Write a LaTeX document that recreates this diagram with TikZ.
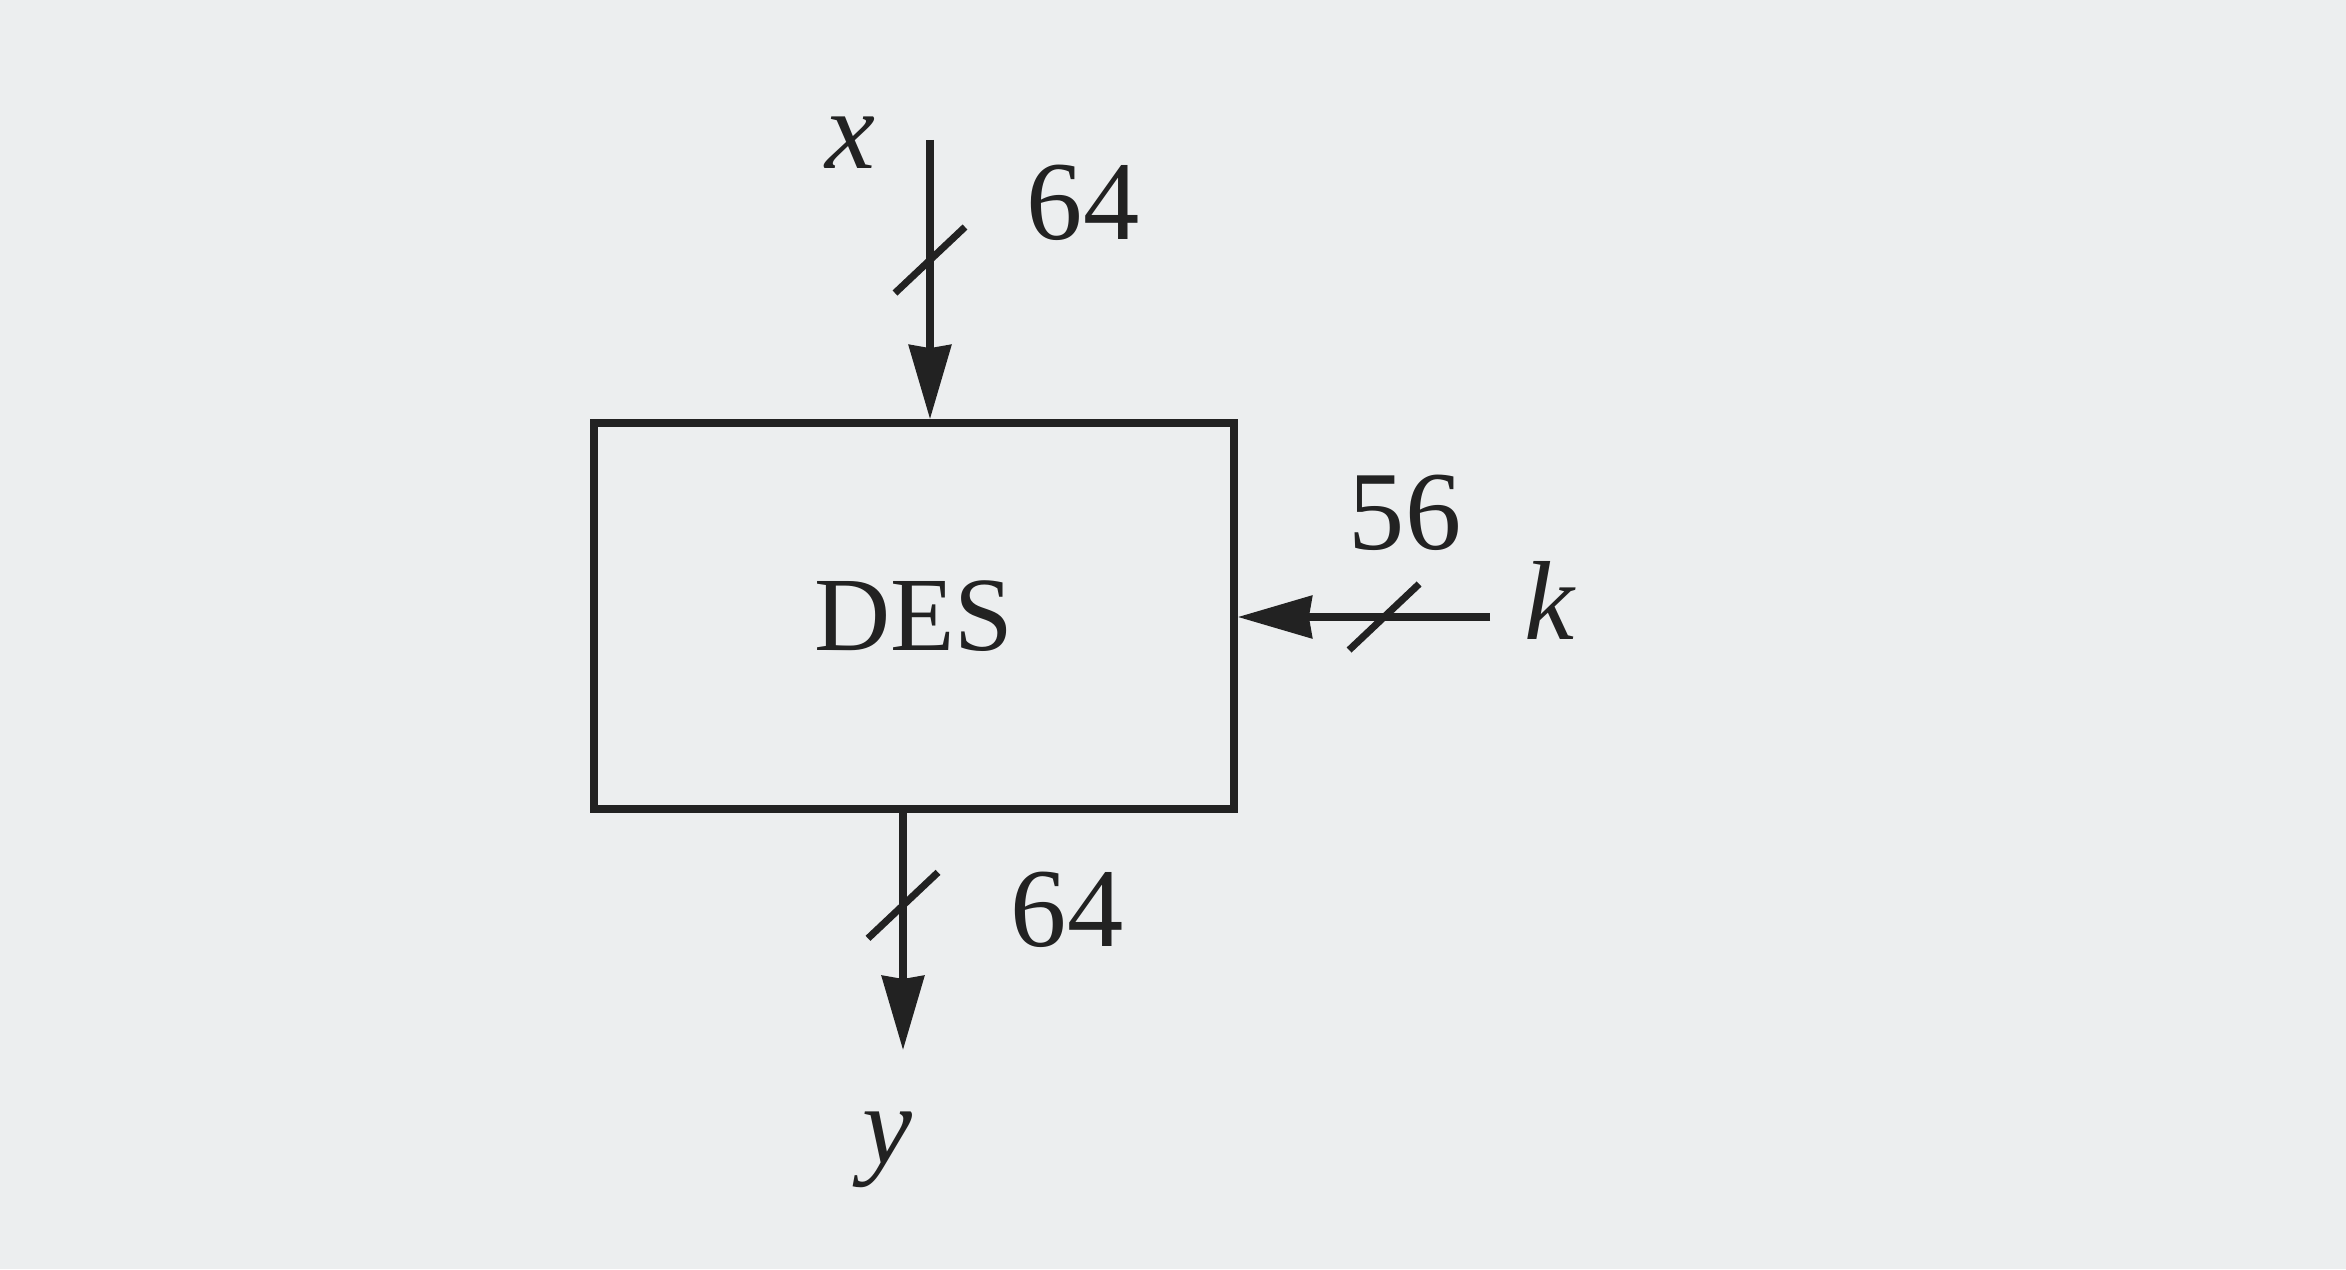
\documentclass[tikz,border=0pt]{standalone}
\usepackage{fontspec}
\setmainfont{Liberation Serif}
\usepackage{tikz}
\usetikzlibrary{arrows.meta,positioning}
\definecolor{desink}{RGB}{34,34,34}
\definecolor{despaper}{RGB}{236,238,239}
\tikzset{
  desbox/.style={draw=desink, line width=2.2pt, minimum width=6.40cm, minimum height=3.86cm, inner sep=0pt, font=\fontsize{30}{36}\selectfont},
  desarr/.style={-{Stealth[length=7.4mm, width=4.2mm, inset=.3mm]}, line width=2pt, draw=desink},
  destick/.style={line width=2pt, draw=desink},
  deslabel/.style={text=desink, inner sep=0pt, font=\fontsize{32}{38}\selectfont}
}
\newcommand{\desTick}[1]{\draw[destick] (#1) ++(-.35,-.33) -- ++(.70,.66);}

\begin{document}
\begin{tikzpicture}
  \fill[despaper] (0,0) rectangle (23.46,12.69);
  \useasboundingbox (0,0) rectangle (23.46,12.69);
  \node[desbox] (des) at (9.14,6.53) {\textcolor{desink}{DES}};
  \coordinate (xin) at (9.30,11.29);
  \coordinate (kin) at (14.90,6.52);
  \coordinate (yout) at (9.03,2.19);
  \draw[desarr] (xin) -- coordinate[pos=.43] (xtick) (xin |- des.north);
  \draw[desarr] (kin) -- coordinate[pos=.42] (ktick) (kin -| des.east);
  \draw[desarr] (yout |- des.south) -- coordinate[pos=.39] (ytick) (yout);
  \desTick{xtick}
  \desTick{ktick}
  \desTick{ytick}
  \node[deslabel] (xlab) at (8.50,11.26) {\textit{x}};
  \node[deslabel] (xbits) at (10.83,10.66) {64};
  \node[deslabel] (kbits) at (14.05,7.56) {56};
  \node[deslabel] (klab) at (15.50,6.69) {\textit{k}};
  \node[deslabel] (ybits) at (10.67,3.59) {64};
  \node[deslabel] (ylab) at (8.87,1.19) {\textit{y}};
\end{tikzpicture}
\end{document}
